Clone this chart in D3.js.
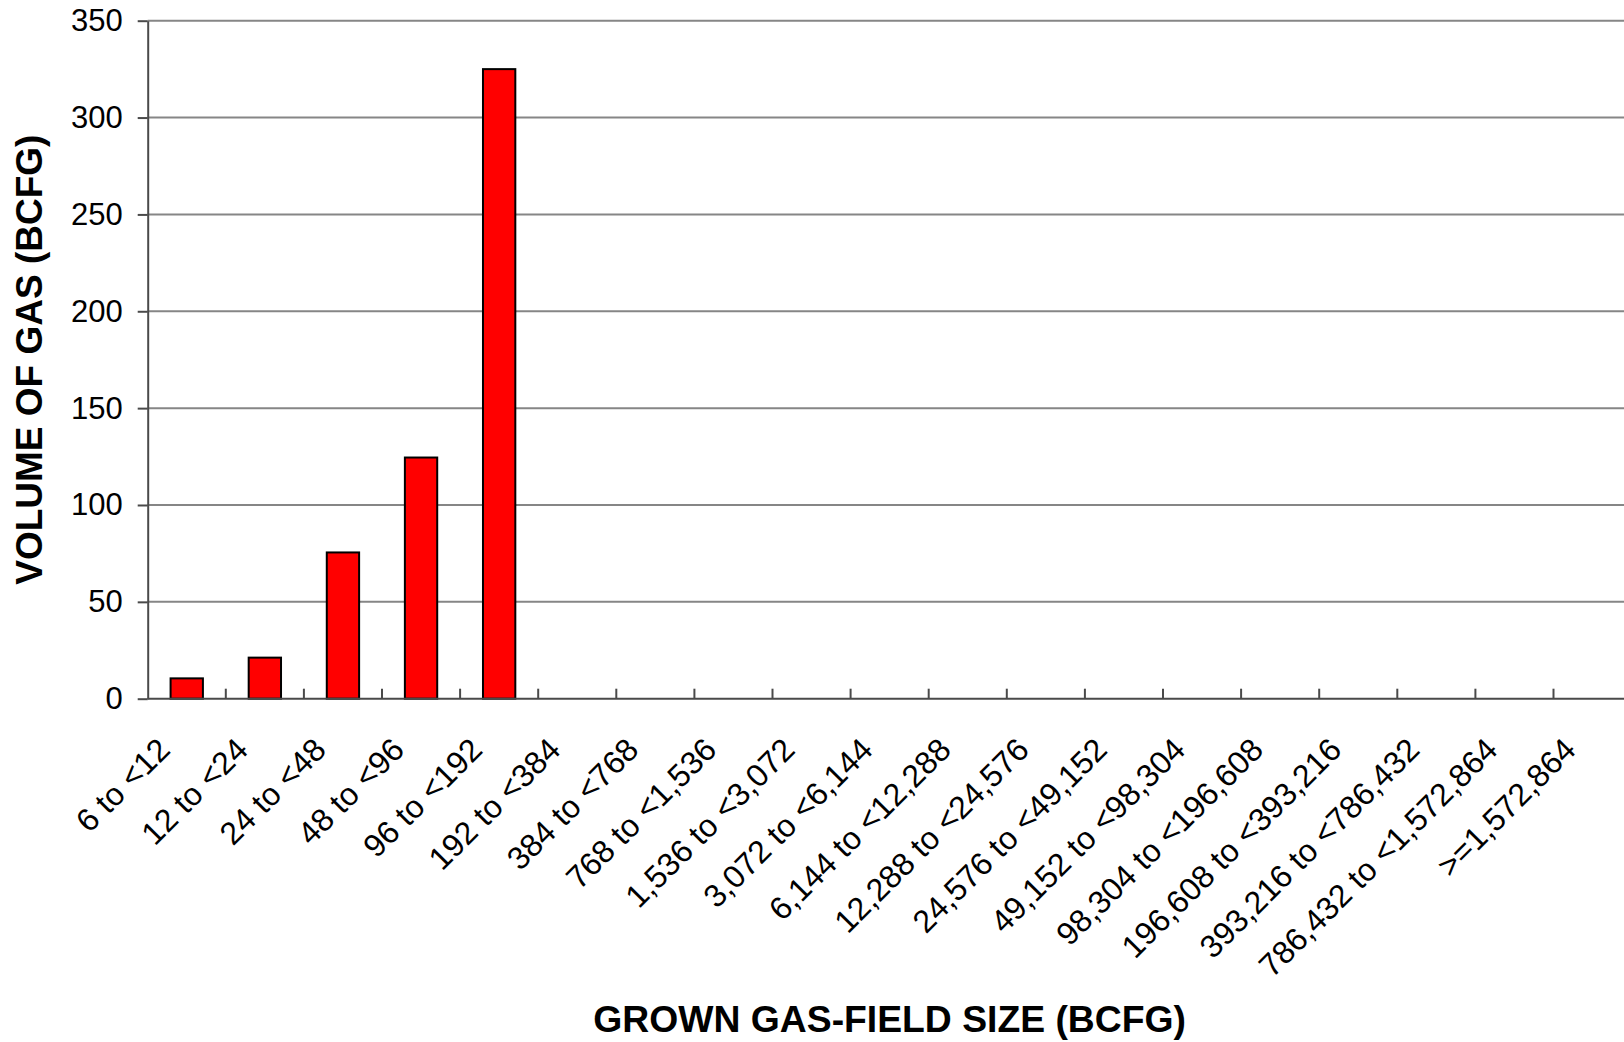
<!DOCTYPE html>
<html>
<head>
<meta charset="utf-8">
<script src="https://cdn.jsdelivr.net/npm/d3@7"></script>
<style>
  html, body { margin: 0; padding: 0; background: #fff; }
  svg { display: block; font-family: "Liberation Sans", Arial, sans-serif; }
</style>
</head>
<body>
<svg id="chart" width="1624" height="1042"></svg>
<script>
const categories = [
  "6 to <12", "12 to <24", "24 to <48", "48 to <96", "96 to <192",
  "192 to <384", "384 to <768", "768 to <1,536", "1,536 to <3,072",
  "3,072 to <6,144", "6,144 to <12,288", "12,288 to <24,576",
  "24,576 to <49,152", "49,152 to <98,304", "98,304 to <196,608",
  "196,608 to <393,216", "393,216 to <786,432", "786,432 to <1,572,864",
  ">=1,572,864"
];
const volumes = [10.5, 21.2, 75.5, 124.5, 325, 0, 0, 0, 0, 0, 0, 0, 0, 0, 0, 0, 0, 0, 0];
const yTicks = [0, 50, 100, 150, 200, 250, 300, 350];
const yTitle = "VOLUME OF GAS (BCFG)";
const xTitle = "GROWN GAS-FIELD SIZE (BCFG)";

(function () {
const svg = d3.select("#chart");
const W = 1624;
const pLeft = 147.7, pRight = 1631.6, pTop = 20.7, pBottom = 698.7;

const x = d3.scaleBand().domain(categories).range([pLeft, pRight]).paddingInner(0).paddingOuter(0);
const y = d3.scaleLinear().domain([0, 350]).range([pBottom, pTop]);
const bw = x.bandwidth();
const barW = bw * 0.414;

// gridlines
svg.append("g").selectAll("line").data(yTicks.filter(d => d > 0)).join("line")
  .attr("x1", pLeft).attr("x2", W)
  .attr("y1", d => y(d)).attr("y2", d => y(d))
  .attr("stroke", "#868686").attr("stroke-width", 2);

// bars
svg.append("g").selectAll("rect").data(categories.map((c, i) => ({c, v: volumes[i]})).filter(d => d.v > 0)).join("rect")
  .attr("x", d => x(d.c) + (bw - barW) / 2)
  .attr("y", d => y(d.v))
  .attr("width", barW)
  .attr("height", d => y(0) - y(d.v))
  .attr("fill", "#ff0000")
  .attr("stroke", "#000")
  .attr("stroke-width", 2);

// y axis
const yAxis = d3.axisLeft(y).tickValues(yTicks).tickSize(10).tickSizeOuter(0).tickPadding(15);
const gy = svg.append("g").attr("transform", `translate(${pLeft},0)`).call(yAxis);
gy.select(".domain").attr("stroke", "#4a4a4a").attr("stroke-width", 2);
gy.selectAll(".tick line").attr("stroke", "#4a4a4a").attr("stroke-width", 2);
gy.selectAll(".tick text").attr("font-size", 31).attr("fill", "#000")
  .attr("font-family", "Liberation Sans, Arial, sans-serif");

// x axis baseline
svg.append("line").attr("x1", pLeft).attr("x2", W).attr("y1", y(0)).attr("y2", y(0))
  .attr("stroke", "#4a4a4a").attr("stroke-width", 2);

// x ticks at band boundaries (inside, upward)
svg.append("g").selectAll("line").data(categories.slice(1)).join("line")
  .attr("x1", d => x(d)).attr("x2", d => x(d))
  .attr("y1", y(0)).attr("y2", y(0) - 10)
  .attr("stroke", "#4a4a4a").attr("stroke-width", 2);

// x tick labels rotated
svg.append("g").selectAll("text").data(categories).join("text")
  .attr("transform", d => `translate(${x(d) + bw / 2 - 15},${y(0) + 53}) rotate(-45)`)
  .attr("text-anchor", "end")
  .attr("font-size", 32)
  .attr("fill", "#000")
  .text(d => d);

// axis titles
svg.append("text")
  .attr("transform", `translate(42,${(pTop + pBottom) / 2}) rotate(-90)`)
  .attr("text-anchor", "middle")
  .attr("font-size", 37).attr("font-weight", "bold").attr("fill", "#000")
  .text(yTitle);

svg.append("text")
  .attr("x", (pLeft + pRight) / 2).attr("y", 1032)
  .attr("text-anchor", "middle")
  .attr("font-size", 37.3).attr("font-weight", "bold").attr("fill", "#000")
  .text(xTitle);
})();
</script>
</body>
</html>
